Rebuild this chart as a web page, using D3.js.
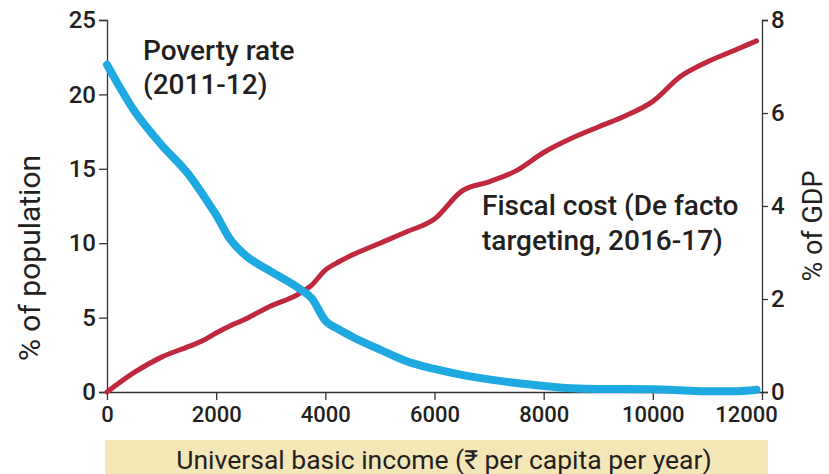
<!DOCTYPE html>
<html><head><meta charset="utf-8">
<script src="https://cdn.jsdelivr.net/npm/d3@7"></script>
<style>
html,body{margin:0;padding:0;background:#fff;}
svg{display:block;}
text{font-family:Roboto,"Liberation Sans",sans-serif;fill:#231f20;font-weight:500;}
</style></head>
<body>
<svg id="chart" width="829" height="474"></svg>
<script>
const income  = [0,500,1000,1500,1750,2000,2250,2500,3000,3500,3750,4000,4250,4500,5000,5500,6000,6500,7000,7500,8000,8500,9000,9500,10000,10500,11000,11500,11900];
const poverty = [22.0,18.9,16.6,14.6,13.3,11.9,10.3,9.3,8.1,7.0,6.3,4.8,4.2,3.7,2.85,2.05,1.55,1.15,0.85,0.6,0.4,0.25,0.2,0.2,0.18,0.12,0.05,0.05,0.15];
const fiscal  = [0,0.42,0.75,0.98,1.1,1.27,1.42,1.55,1.85,2.1,2.3,2.62,2.8,2.95,3.2,3.45,3.72,4.32,4.52,4.76,5.15,5.45,5.7,5.94,6.25,6.78,7.1,7.35,7.55];
const xTicks = [0,2000,4000,6000,8000,10000,12000];
const leftTicks = [0,5,10,15,20,25];
const rightTicks = [0,2,4,6,8];

const svg = d3.select("#chart");
const L = 107, R = 762, T = 20, B = 392;
const x = d3.scaleLinear().domain([0,12000]).range([L,R]);
const yL = d3.scaleLinear().domain([0,25]).range([B,T]);
const yR = d3.scaleLinear().domain([0,8]).range([B,T]);

// band
svg.append("rect").attr("x",105).attr("y",440).attr("width",663).attr("height",34).attr("fill","#f5e6b8");
svg.append("text").attr("x",444).attr("y",469).attr("text-anchor","middle")
  .style("font-size","26.5px").style("font-weight","400").text("Universal basic income (₹ per capita per year)");

function styleAxis(g, fs){
  g.selectAll("path,line").attr("stroke","#333").attr("stroke-width",1.3);
  g.selectAll("text").style("font-size",fs).attr("fill","#231f20");
}
const gx = svg.append("g").attr("transform",`translate(0,${B})`)
  .call(d3.axisBottom(x).tickValues(xTicks).tickFormat(d3.format("d")).tickSize(8).tickSizeOuter(0).tickPadding(6));
styleAxis(gx,"22px");
gx.selectAll(".tick text").filter(d=>d===12000).attr("dx",-16);
const gl = svg.append("g").attr("transform",`translate(${L},0)`)
  .call(d3.axisLeft(yL).tickValues(leftTicks).tickSize(8).tickSizeOuter(8).tickPadding(3));
styleAxis(gl,"24px");
const gr = svg.append("g").attr("transform",`translate(${R},0)`)
  .call(d3.axisRight(yR).tickValues(rightTicks).tickSize(6).tickSizeOuter(6).tickPadding(3));
styleAxis(gr,"24px");

svg.append("text").attr("transform","translate(40,258) rotate(-90)").attr("text-anchor","middle")
  .style("font-size","30px").style("font-weight","400").text("% of population");
svg.append("text").attr("transform","translate(822,226) rotate(-90)").attr("text-anchor","middle")
  .style("font-size","27px").style("font-weight","400").text("% of GDP");

const data = income.map((d,i)=>({x:d,p:poverty[i],f:fiscal[i]}));
svg.append("path").datum(data).attr("fill","none").attr("stroke","#c0283f").attr("stroke-width",5)
  .attr("stroke-linecap","round")
  .attr("d",d3.line().x(d=>x(d.x)).y(d=>yR(d.f)).curve(d3.curveMonotoneX));
svg.append("path").datum(data).attr("fill","none").attr("stroke","#1fa9e1").attr("stroke-width",8)
  .attr("stroke-linecap","round")
  .attr("d",d3.line().x(d=>x(d.x)).y(d=>yL(d.p)).curve(d3.curveMonotoneX));

// annotations
svg.append("text").attr("x",143).attr("y",60).style("font-size","28px").text("Poverty rate");
svg.append("text").attr("x",143).attr("y",94).style("font-size","28px").text("(2011-12)");
svg.append("text").attr("x",482).attr("y",215).style("font-size","28px").text("Fiscal cost (De facto");
svg.append("text").attr("x",482).attr("y",250).style("font-size","28px").text("targeting, 2016-17)");
</script>
</body></html>
